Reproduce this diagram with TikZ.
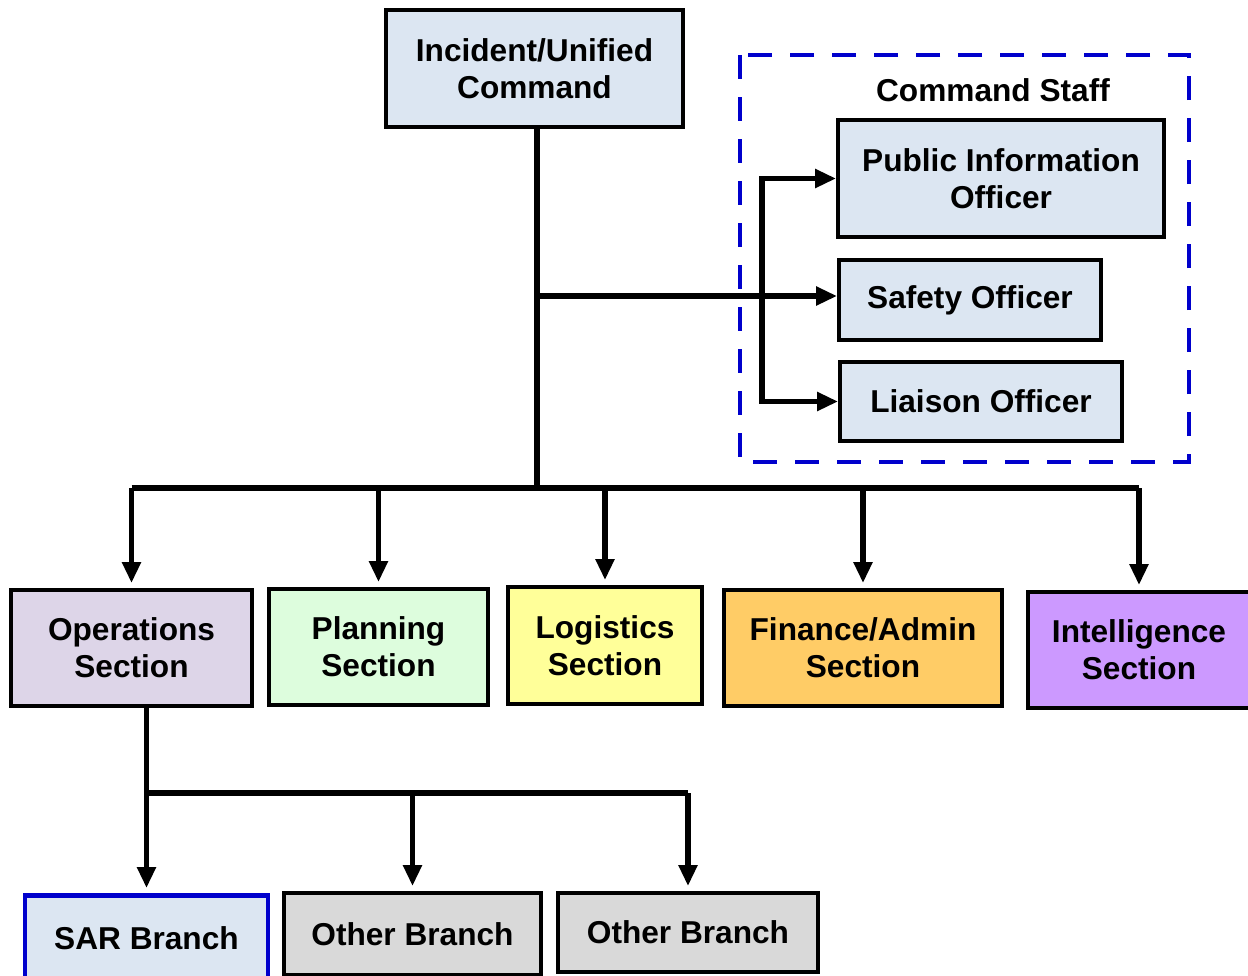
\documentclass[tikz,border=0pt]{standalone}
\usepackage{fontspec}
\setmainfont{Liberation Sans}
\usetikzlibrary{arrows.meta,positioning,calc}

\definecolor{cmdBlue}{HTML}{DCE6F2}
\definecolor{opsLilac}{HTML}{DDD5E8}
\definecolor{planGreen}{HTML}{DDFDDD}
\definecolor{logYellow}{HTML}{FFFF99}
\definecolor{finOrange}{HTML}{FFCC66}
\definecolor{intPurple}{HTML}{CC99FF}
\definecolor{othGray}{HTML}{D9D9D9}
\definecolor{staffBlue}{HTML}{0000CC}

\tikzset{
  unit/.style={draw=black, line width=2.2pt, inner sep=0pt, align=center,
    font=\fontsize{18}{21}\selectfont\bfseries},
  conn/.style={line width=3.2pt},
  arr/.style={conn, -{Triangle[length=0.42cm,width=0.36cm]}},
  downarr/.style={arr, shorten >=0.1cm},
}

\begin{document}
\begin{tikzpicture}
  \useasboundingbox (0,0) rectangle (24.96,-19.5);

  % Command staff frame
  \draw[staffBlue, line width=2.7pt, dash pattern=on 0.48cm off 0.36cm]
    (14.8,-1.1) rectangle (23.78,-9.24);
  \node[font=\fontsize{18}{21}\selectfont\bfseries] (stafflbl) at (19.86,-1.8) {Command Staff};

  % Top of the chart
  \node[unit, fill=cmdBlue, minimum width=5.94cm, minimum height=2.34cm] (cmd) at (10.69,-1.37)
    {Incident/Unified\\Command};
  \node[unit, fill=cmdBlue, minimum width=6.52cm, minimum height=2.34cm] (pio) at (20.02,-3.57)
    {Public Information\\Officer};
  \node[unit, fill=cmdBlue, minimum width=5.24cm, minimum height=1.6cm] (safety) at (19.40,-6.0)
    {Safety Officer};
  \node[unit, fill=cmdBlue, minimum width=5.64cm, minimum height=1.58cm] (liaison) at (19.62,-8.03)
    {Liaison Officer};

  % Sections
  \node[unit, fill=opsLilac, minimum width=4.82cm, minimum height=2.32cm] (ops) at (2.63,-12.96)
    {Operations\\Section};
  \node[unit, fill=planGreen, minimum width=4.38cm, minimum height=2.32cm] (plan) at (7.57,-12.94)
    {Planning\\Section};
  \node[unit, fill=logYellow, minimum width=3.88cm, minimum height=2.34cm] (logi) at (12.10,-12.91)
    {Logistics\\Section};
  \node[unit, fill=finOrange, minimum width=5.56cm, minimum height=2.32cm] (fin) at (17.26,-12.96)
    {Finance/Admin\\Section};
  \node[unit, fill=intPurple, minimum width=4.44cm, minimum height=2.32cm] (intel) at (22.78,-13.0)
    {Intelligence\\Section};

  % Branches
  \node[unit, draw=staffBlue, line width=2.8pt, fill=cmdBlue, minimum width=4.86cm, minimum height=1.7cm] (sar) at (2.93,-18.76)
    {SAR Branch};
  \node[unit, fill=othGray, minimum width=5.14cm, minimum height=1.64cm] (oth1) at (8.25,-18.68)
    {Other Branch};
  \node[unit, fill=othGray, minimum width=5.2cm, minimum height=1.58cm] (oth2) at (13.76,-18.65)
    {Other Branch};

  % Connectors
  \coordinate (bus) at (0,-9.76);
  \coordinate (subbus) at (0,-15.86);
  \coordinate (brk) at (15.24,-6.0);
  \coordinate (trunk) at (10.74,-5.92);

  \draw[conn] (cmd.south -| trunk) -- (trunk |- bus);
  \draw[arr] (trunk) -- (trunk -| safety.west);
  \draw[{Triangle[length=0.42cm,width=0.36cm]}-{Triangle[length=0.42cm,width=0.36cm]}, conn]
    (pio.west) -| (brk) |- (liaison.west);

  \draw[conn] (ops.north |- bus) -- (intel.north |- bus);
  \foreach \sec in {ops,plan,logi,fin,intel}
    \draw[downarr] (\sec.north |- bus) -- (\sec.north);

  \draw[conn] (ops.south -| sar.north) -- (sar.north |- subbus) -- (oth2.north |- subbus);
  \foreach \br in {sar,oth1,oth2}
    \draw[downarr] (\br.north |- subbus) -- (\br.north);
\end{tikzpicture}
\end{document}
